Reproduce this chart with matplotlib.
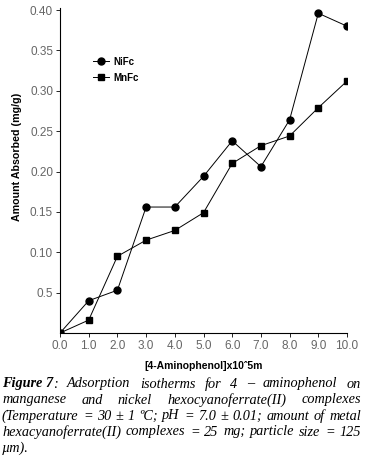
import matplotlib
matplotlib.use("Agg")
import matplotlib.pyplot as plt

conc = [0, 1, 2, 3, 4, 5, 6, 7, 8, 9, 10]
nifc = [0, 0.040, 0.053, 0.156, 0.156, 0.194, 0.238, 0.206, 0.264, 0.396, 0.380]
mnfc = [0, 0.016, 0.095, 0.115, 0.127, 0.149, 0.210, 0.232, 0.244, 0.279, 0.312]
yticks = [0.05, 0.10, 0.15, 0.20, 0.25, 0.30, 0.35, 0.40]
ytick_labels = ["0.5", "0.10", "0.15", "0.20", "0.25", "0.30", "0.35", "0.40"]
xticks = [0, 1, 2, 3, 4, 5, 6, 7, 8, 9, 10]
xtick_labels = ["0.0", "1.0", "2.0", "3.0", "4.0", "5.0", "6.0", "7.0", "8.0", "9.0", "10.0"]

W, H = 370, 459
fig = plt.figure(figsize=(W / 100, H / 100), dpi=100)
ax = fig.add_axes([60 / W, 1 - 333 / H, (347 - 60) / W, (333 - 8) / H])
ax.plot(conc, nifc, color="black", lw=0.7, marker="o", ms=5, label="NiFc")
ax.plot(conc, mnfc, color="black", lw=0.7, marker="s", ms=4.5, label="MnFc")
ax.set_xlim(0, 10)
ax.set_ylim(0, 0.4025)
ax.set_xticks(xticks)
ax.set_xticklabels(xtick_labels)
ax.set_yticks(yticks)
ax.set_yticklabels(ytick_labels)
for s in ["top", "right"]:
    ax.spines[s].set_visible(False)
for s in ["left", "bottom"]:
    ax.spines[s].set_linewidth(0.8)
ax.tick_params(direction="out", length=3, width=0.6, labelsize=8.5, pad=2, colors="black")
for lab in ax.get_xticklabels() + ax.get_yticklabels():
    lab.set_family("Liberation Sans")
    lab.set_color("#666666")

fig.text(17 / W, 1 - 157 / H, "Amount Absorbed (mg/g)", rotation=90, ha="center", va="center",
         fontsize=7.7, fontweight="bold", family="Liberation Sans")
fig.text(204 / W, 1 - 366 / H, "[4-Aminophenol]x10ˆ5m", ha="center", va="center",
         fontsize=7.5, fontweight="bold", family="Liberation Sans")

leg = ax.legend(loc="upper left", bbox_to_anchor=((88 - 60) / (347 - 60), 1 - (52 - 8) / 325),
                frameon=False, handlelength=1.7, handletextpad=0.4, labelspacing=0.6,
                prop={"family": "Liberation Sans", "weight": "bold", "size": 7}, borderpad=0)

ys = [384, 400, 416, 432, 448]
left, right = 2, 361
fs = 10.3
serif = "Liberation Serif"
fig.canvas.draw()
r = fig.canvas.get_renderer()

def width(s, **kw):
    t = fig.text(0, 0, s, fontsize=fs, style="italic", family=serif, **kw)
    w = t.get_window_extent(renderer=r).width
    t.remove()
    return w

def put(x, y, s, **kw):
    fig.text(x / W, 1 - y / H, s, fontsize=fs, style="italic", family=serif, va="center", **kw)

# line 1 with bold "Figure 7"
rest = ["Adsorption", "isotherms", "for", "4", "–", "aminophenol", "on"]
w1 = width("Figure 7", weight="bold")
w2 = width(":")
ws = [width(w) for w in rest]
gap = (right - left - w1 - w2 - sum(ws)) / len(rest)
x = left
put(x, ys[0], "Figure 7", weight="bold")
x += w1
put(x, ys[0], ":")
x += w2 + gap
for w, wd in zip(rest, ws):
    put(x, ys[0], w)
    x += wd + gap

lines = [
    "manganese and nickel hexocyanoferrate(II) complexes",
    "(Temperature = 30 ± 1 ºC; pH = 7.0 ± 0.01; amount of metal",
    "hexacyanoferrate(II) complexes = 25 mg; particle size = 125",
]
for ln, y in zip(lines, ys[1:4]):
    words = ln.split(" ")
    ws = [width(w) for w in words]
    gap = (right - left - sum(ws)) / (len(words) - 1)
    x = left
    for w, wd in zip(words, ws):
        put(x, y, w)
        x += wd + gap
put(left, ys[4], "µm).")

fig.savefig("out.png", dpi=100)
